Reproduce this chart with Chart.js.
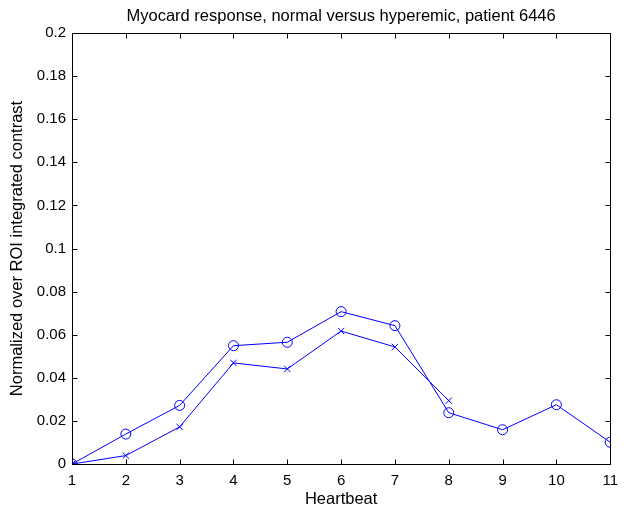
<!DOCTYPE html>
<html>
<head>
<meta charset="utf-8">
<script src="https://cdn.jsdelivr.net/npm/chart.js@4/dist/chart.umd.min.js"></script>
<style>
html,body{margin:0;padding:0;background:#fff;}
#wrap{width:626px;height:510px;}
</style>
</head>
<body>
<div id="wrap"><canvas id="c" width="626" height="510"></canvas></div>
<script>
const heartbeats = [1,2,3,4,5,6,7,8,9,10,11];
const hyperemic = [0, 0.0139, 0.0272, 0.0549, 0.0565, 0.0707, 0.0642, 0.0238, 0.0159, 0.0275, 0.0101];
const normal = [0, 0.0039, 0.0172, 0.0469, 0.0441, 0.0617, 0.0543, 0.0294];
const yTicks = [0,0.02,0.04,0.06,0.08,0.1,0.12,0.14,0.16,0.18,0.2];
const titleText = 'Myocard response, normal versus hyperemic, patient 6446';
const xLabel = 'Heartbeat';
const yLabel = 'Normalized over ROI integrated contrast';

const FONT = '"Liberation Sans", Arial, Helvetica, sans-serif';

function fmt(v){ return String(Math.round(v*1000)/1000); }

const boxPlugin = {
  id:'box',
  afterDatasetsDraw(chart){
    const {ctx, chartArea:a, scales} = chart;
    ctx.save();
    ctx.strokeStyle = '#000';
    ctx.lineWidth = 1;
    ctx.beginPath();
    const L = Math.round(a.left)+0.5, R = Math.round(a.right)+0.5, T = Math.round(a.top)+0.5, B = Math.round(a.bottom)+0.5;
    ctx.rect(L, T, R-L, B-T);
    const tl = 5;
    heartbeats.forEach(v=>{
      const px = Math.round(scales.x.getPixelForValue(v))+0.5;
      ctx.moveTo(px, B); ctx.lineTo(px, B-tl);
      ctx.moveTo(px, T); ctx.lineTo(px, T+tl);
    });
    yTicks.forEach(v=>{
      const py = Math.round(scales.y.getPixelForValue(v))+0.5;
      ctx.moveTo(L, py); ctx.lineTo(L+tl, py);
      ctx.moveTo(R, py); ctx.lineTo(R-tl, py);
    });
    ctx.stroke();
    ctx.restore();
  },
  afterDraw(chart){
    const {ctx, chartArea:a} = chart;
    ctx.save();
    ctx.fillStyle = '#000';
    ctx.font = '16.5px ' + FONT;
    ctx.textAlign = 'center';
    ctx.textBaseline = 'alphabetic';
    ctx.fillText(titleText, (a.left + a.right)/2, 21);
    ctx.restore();
  }
};

new Chart(document.getElementById('c'), {
  type:'line',
  data:{
    datasets:[
      {
        label:'hyperemic',
        data: heartbeats.map((x,i)=>({x, y:hyperemic[i]})),
        borderColor:'#0000ff', backgroundColor:'transparent',
        borderWidth:1, pointStyle:'circle', pointRadius:5, pointBorderWidth:1,
        pointBorderColor:'#0000ff', pointBackgroundColor:'transparent', tension:0
      },
      {
        label:'normal',
        data: normal.map((y,i)=>({x:heartbeats[i], y})),
        borderColor:'#0000ff', backgroundColor:'transparent',
        borderWidth:1, pointStyle:'crossRot', pointRadius:4.5, pointBorderWidth:1,
        pointBorderColor:'#0000ff', pointBackgroundColor:'transparent', tension:0
      }
    ]
  },
  options:{
    responsive:false, animation:false,
    layout:{padding:{left:0,right:8,top:33,bottom:0}},
    plugins:{
      legend:{display:false}, tooltip:{enabled:false}, title:{display:false}
    },
    scales:{
      x:{type:'linear', min:1, max:11,
        afterFit(s){ s.height = 46; },
        ticks:{stepSize:1, color:'#000', font:{family:FONT,size:15}, padding:8, maxRotation:0, autoSkip:false},
        grid:{display:false, drawTicks:false}, border:{display:false},
        title:{display:true, text:xLabel, color:'#000', font:{family:FONT,size:16.5}, padding:{top:0,bottom:1}}
      },
      y:{type:'linear', min:0, max:0.2,
        afterFit(s){ s.width = 72; },
        afterBuildTicks(s){ s.ticks = yTicks.map(v=>({value:v})); },
        ticks:{color:'#000', font:{family:FONT,size:15}, padding:6, callback:(v)=>fmt(v)},
        grid:{display:false, drawTicks:false}, border:{display:false},
        title:{display:true, text:yLabel, color:'#000', font:{family:FONT,size:16.5}, padding:{top:8,bottom:0}}
      }
    }
  },
  plugins:[boxPlugin]
});
</script>
</body>
</html>
